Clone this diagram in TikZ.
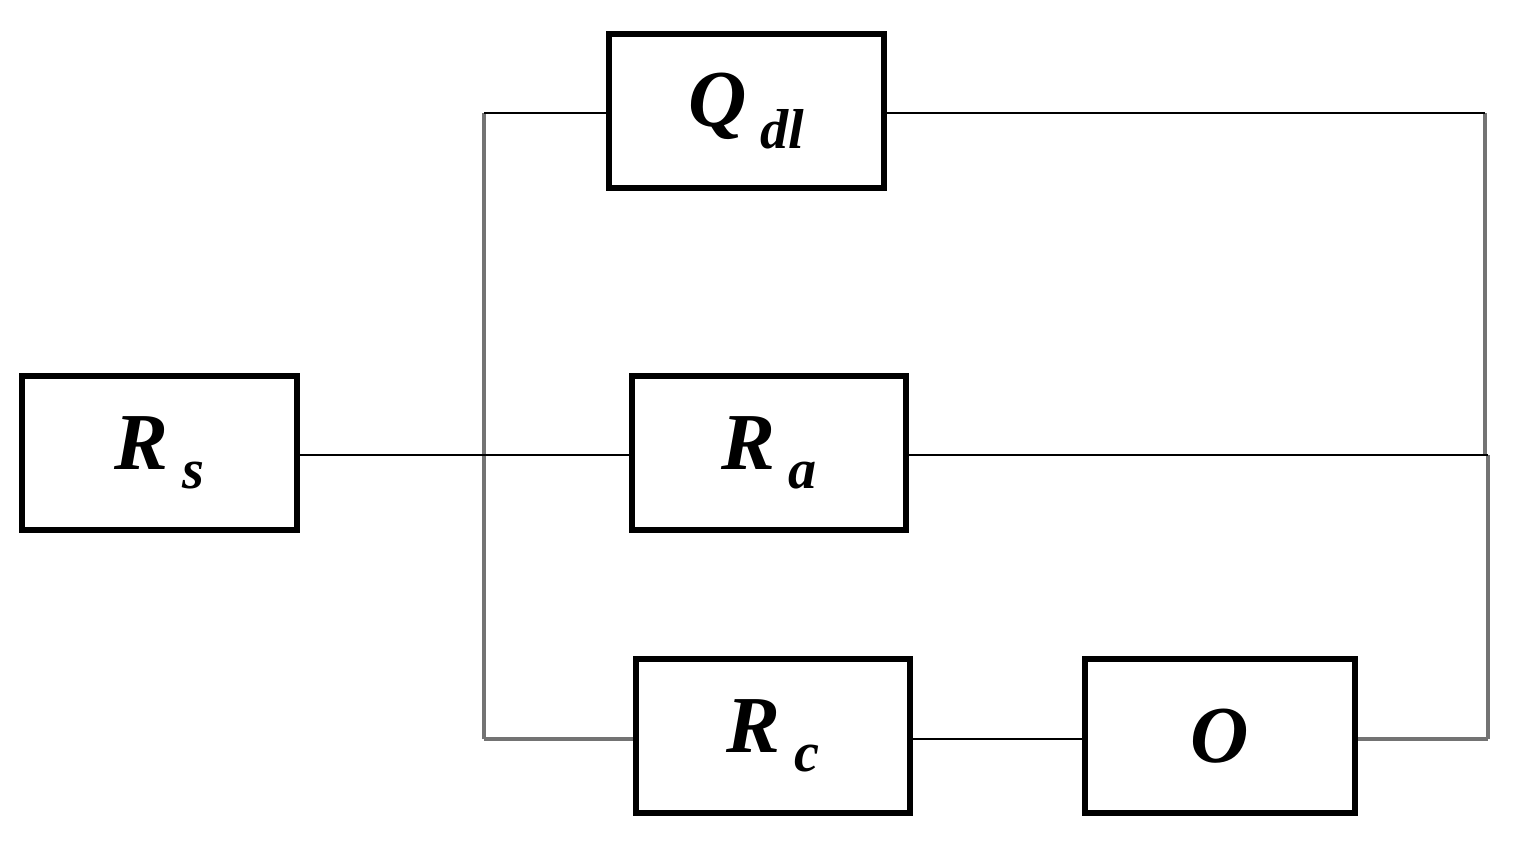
\documentclass[tikz,border=0pt]{standalone}
\usepackage{fontspec}
\setmainfont{Liberation Serif}
\begin{document}
\begin{tikzpicture}[x=0.02cm,y=-0.02cm,
  box/.style={draw,line width=3.4pt,minimum width=5.5cm,minimum height=3.08cm,inner sep=0,font=\fontsize{46}{50}\selectfont\bfseries\itshape},
  wire/.style={line width=1.7pt},
  gw/.style={line width=2.2pt,draw=black!55}]
\useasboundingbox (0,0) rectangle (1515,841);
\node[box] (rs) at (159.5,453) {R\,\raisebox{-0.5ex}{\fontsize{32}{34}\selectfont s}};
\node[box] (q) at (746.5,111) {Q\,\raisebox{-0.6ex}{\fontsize{32}{34}\selectfont dl}};
\node[box] (ra) at (769,453) {R\,\raisebox{-0.5ex}{\fontsize{32}{34}\selectfont a}};
\node[box] (rc) at (773,736) {R\,\raisebox{-0.5ex}{\fontsize{32}{34}\selectfont c}};
\node[box,minimum width=5.4cm] (o) at (1220,736) {O};
\coordinate (tl) at (484,113);
\coordinate (bl) at (484,739);
\coordinate (tr) at (1485,113);
\coordinate (mr) at (1488,455);
\coordinate (br) at (1488,739);
\draw[gw] (tl) -- (bl);
\draw[gw] (tr) -- (1485,455);
\draw[gw] (mr) -- (br);
\draw[wire] (rs.east |- 0,455) -- (ra.west |- 0,455);
\draw[wire] (tl) -- (q.west |- tl);
\draw[wire] (q.east |- tr) -- (tr);
\draw[wire] (ra.east |- mr) -- (mr);
\draw[gw] (bl) -- (rc.west |- bl);
\draw[wire] (rc.east |- bl) -- (o.west |- bl);
\draw[gw] (o.east |- br) -- (br);
\end{tikzpicture}
\end{document}
